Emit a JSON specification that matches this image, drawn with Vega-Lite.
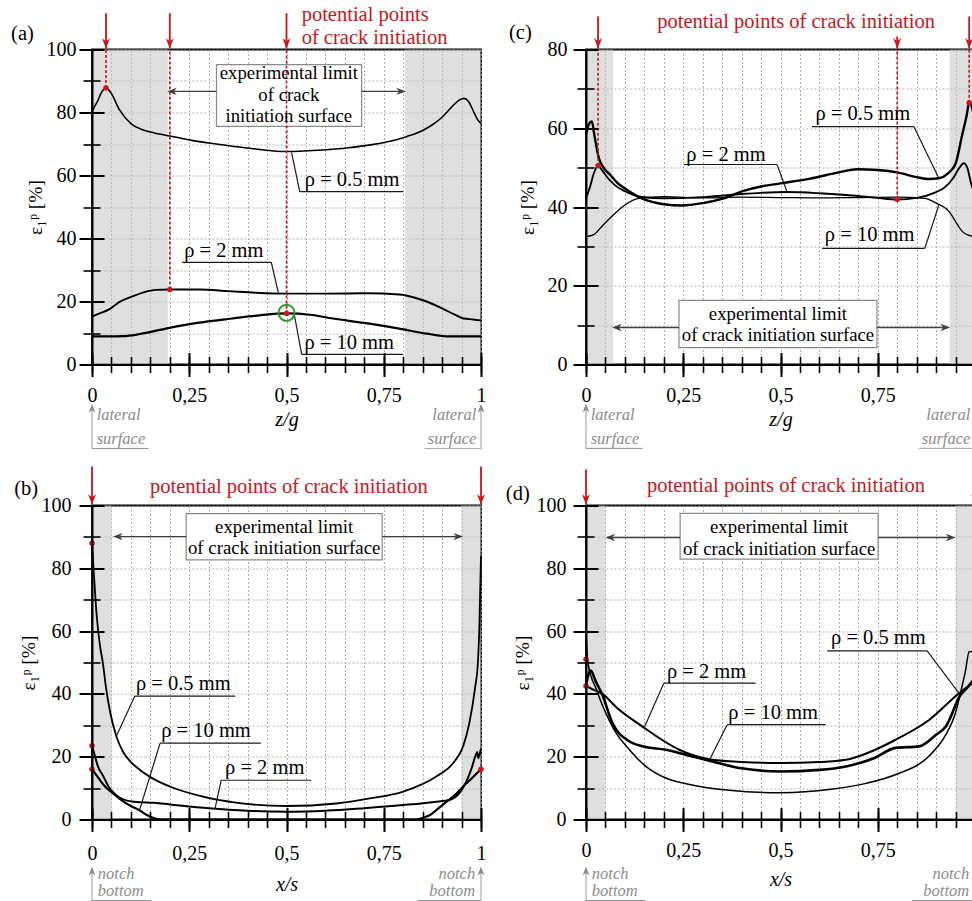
{
  "$schema": "https://vega.github.io/schema/vega-lite/v6.json",
  "background": "white",
  "padding": {"left": 10, "top": 4.5, "right": -8, "bottom": 1},
  "columns": 2,
  "spacing": {"row": 141, "column": 105},
  "bounds": "flush",
  "config": {
    "view": {"stroke": "black", "strokeWidth": 1.8},
    "font": "Liberation Serif",
    "axis": {
      "labelFont": "Liberation Serif", "titleFont": "Liberation Serif",
      "labelColor": "black", "titleColor": "black", "titleFontWeight": "normal",
      "labelFontSize": 20, "titleFontSize": 20, "domainColor": "black", "tickColor": "black",
      "labelFlush": false, "labelOverlap": false
    },
    "text": {"font": "Liberation Serif"}
  },
  "datasets": {
    "a_curves": [
      {"rho": "0.5 mm", "x": 0, "y": 80}, {"rho": "0.5 mm", "x": 0.007, "y": 82}, {"rho": "0.5 mm", "x": 0.014, "y": 83.5},
      {"rho": "0.5 mm", "x": 0.025, "y": 86.5}, {"rho": "0.5 mm", "x": 0.036, "y": 87.8}, {"rho": "0.5 mm", "x": 0.05, "y": 86},
      {"rho": "0.5 mm", "x": 0.07, "y": 81}, {"rho": "0.5 mm", "x": 0.1, "y": 76.5}, {"rho": "0.5 mm", "x": 0.13, "y": 74.5},
      {"rho": "0.5 mm", "x": 0.16, "y": 73.5}, {"rho": "0.5 mm", "x": 0.206, "y": 72.4}, {"rho": "0.5 mm", "x": 0.25, "y": 71.3},
      {"rho": "0.5 mm", "x": 0.3, "y": 70.3}, {"rho": "0.5 mm", "x": 0.36, "y": 69.3}, {"rho": "0.5 mm", "x": 0.42, "y": 68.4},
      {"rho": "0.5 mm", "x": 0.5, "y": 67.6}, {"rho": "0.5 mm", "x": 0.58, "y": 68}, {"rho": "0.5 mm", "x": 0.66, "y": 68.8},
      {"rho": "0.5 mm", "x": 0.72, "y": 69.8}, {"rho": "0.5 mm", "x": 0.78, "y": 71.3}, {"rho": "0.5 mm", "x": 0.81, "y": 72.4},
      {"rho": "0.5 mm", "x": 0.85, "y": 74.3}, {"rho": "0.5 mm", "x": 0.876, "y": 76.2}, {"rho": "0.5 mm", "x": 0.9, "y": 78.5},
      {"rho": "0.5 mm", "x": 0.925, "y": 81.8}, {"rho": "0.5 mm", "x": 0.945, "y": 84}, {"rho": "0.5 mm", "x": 0.956, "y": 84.5},
      {"rho": "0.5 mm", "x": 0.968, "y": 83.5}, {"rho": "0.5 mm", "x": 0.98, "y": 80.5}, {"rho": "0.5 mm", "x": 0.99, "y": 78},
      {"rho": "0.5 mm", "x": 1, "y": 76.5},
      {"rho": "2 mm", "x": 0, "y": 15.2}, {"rho": "2 mm", "x": 0.02, "y": 16.2}, {"rho": "2 mm", "x": 0.044, "y": 17.5},
      {"rho": "2 mm", "x": 0.07, "y": 19.8}, {"rho": "2 mm", "x": 0.104, "y": 21.6}, {"rho": "2 mm", "x": 0.135, "y": 23},
      {"rho": "2 mm", "x": 0.164, "y": 23.7}, {"rho": "2 mm", "x": 0.2, "y": 23.8}, {"rho": "2 mm", "x": 0.276, "y": 23.8},
      {"rho": "2 mm", "x": 0.35, "y": 23.3}, {"rho": "2 mm", "x": 0.42, "y": 22.8}, {"rho": "2 mm", "x": 0.5, "y": 22.5},
      {"rho": "2 mm", "x": 0.6, "y": 22.5}, {"rho": "2 mm", "x": 0.706, "y": 22.6}, {"rho": "2 mm", "x": 0.79, "y": 22.2},
      {"rho": "2 mm", "x": 0.83, "y": 21.2}, {"rho": "2 mm", "x": 0.86, "y": 20}, {"rho": "2 mm", "x": 0.9, "y": 17.8},
      {"rho": "2 mm", "x": 0.93, "y": 16}, {"rho": "2 mm", "x": 0.955, "y": 14.6}, {"rho": "2 mm", "x": 0.98, "y": 14.3},
      {"rho": "2 mm", "x": 1, "y": 14},
      {"rho": "10 mm", "x": 0, "y": 8.9}, {"rho": "10 mm", "x": 0.04, "y": 8.9}, {"rho": "10 mm", "x": 0.08, "y": 9},
      {"rho": "10 mm", "x": 0.12, "y": 9.6}, {"rho": "10 mm", "x": 0.19, "y": 11.4}, {"rho": "10 mm", "x": 0.27, "y": 13.2},
      {"rho": "10 mm", "x": 0.36, "y": 14.6}, {"rho": "10 mm", "x": 0.43, "y": 15.6}, {"rho": "10 mm", "x": 0.5, "y": 16.2},
      {"rho": "10 mm", "x": 0.56, "y": 15.8}, {"rho": "10 mm", "x": 0.62, "y": 14.6}, {"rho": "10 mm", "x": 0.7, "y": 13.2},
      {"rho": "10 mm", "x": 0.79, "y": 11.4}, {"rho": "10 mm", "x": 0.86, "y": 9.8}, {"rho": "10 mm", "x": 0.92, "y": 8.9},
      {"rho": "10 mm", "x": 1, "y": 8.9}
    ],
    "a_rects": [
      {"kind": "shade", "x": 0, "x2": 0.195, "y": 0, "y2": 100},
      {"kind": "shade", "x": 0.805, "x2": 1, "y": 0, "y2": 100},
      {"kind": "box", "x": 0.32, "x2": 0.693, "y": 75.6, "y2": 95.2}
    ],
    "a_rules": [
      {"kind": "crack", "x": 0.036, "y": 100.3, "x2": 0.036, "y2": 111.5},
      {"kind": "crack", "x": 0.2, "y": 100.3, "x2": 0.2, "y2": 111.5},
      {"kind": "crack", "x": 0.5, "y": 100.3, "x2": 0.5, "y2": 111.5},
      {"kind": "dash", "x": 0.036, "y": 87.8, "x2": 0.036, "y2": 100},
      {"kind": "dash", "x": 0.2, "y": 23.8, "x2": 0.2, "y2": 100},
      {"kind": "dash", "x": 0.5, "y": 16.2, "x2": 0.5, "y2": 100},
      {"kind": "box", "x": 0.32, "y": 86.7, "x2": 0.205, "y2": 86.7},
      {"kind": "box", "x": 0.693, "y": 86.7, "x2": 0.795, "y2": 86.7},
      {"kind": "leader", "x": 0.534, "y": 54.9, "x2": 0.8, "y2": 54.9},
      {"kind": "leader", "x": 0.534, "y": 54.9, "x2": 0.513, "y2": 67.3},
      {"kind": "leader", "x": 0.232, "y": 32.4, "x2": 0.461, "y2": 32.4},
      {"kind": "leader", "x": 0.461, "y": 32.4, "x2": 0.479, "y2": 22.8},
      {"kind": "leader", "x": 0.539, "y": 3.2, "x2": 0.799, "y2": 3.2},
      {"kind": "leader", "x": 0.539, "y": 3.2, "x2": 0.52, "y2": 15.9},
      {"kind": "note", "x": 0, "y": -26.7, "x2": 0, "y2": -14},
      {"kind": "note", "x": 0, "y": -26.7, "x2": 0.145, "y2": -26.7},
      {"kind": "note", "x": 1, "y": -26.7, "x2": 1, "y2": -14},
      {"kind": "note", "x": 0.855, "y": -26.7, "x2": 1, "y2": -26.7}
    ],
    "a_heads": [
      {"kind": "crack", "dir": "down", "x": 0.036, "y": 100.3},
      {"kind": "crack", "dir": "down", "x": 0.2, "y": 100.3},
      {"kind": "crack", "dir": "down", "x": 0.5, "y": 100.3},
      {"kind": "box", "dir": "left", "x": 0.193, "y": 86.7},
      {"kind": "box", "dir": "right", "x": 0.807, "y": 86.7},
      {"kind": "note", "dir": "up", "x": 0, "y": -12.5},
      {"kind": "note", "dir": "up", "x": 1, "y": -12.5}
    ],
    "a_dots": [
      {"kind": "dot", "x": 0.036, "y": 87.8}, {"kind": "dot", "x": 0.2, "y": 23.8},
      {"kind": "dot", "x": 0.5, "y": 16.2}, {"kind": "ring", "x": 0.5, "y": 16.4}
    ],
    "a_texts": [
      {"kind": "red", "label": "potential points", "x": 0.539, "y": 110.8},
      {"kind": "red", "label": "of crack initiation", "x": 0.539, "y": 103.5},
      {"kind": "letter", "label": "(a)", "x": -0.208, "y": 104.8},
      {"kind": "box", "label": "experimental limit", "x": 0.506, "y": 92.4},
      {"kind": "box", "label": "of crack", "x": 0.506, "y": 85.7},
      {"kind": "box", "label": "initiation surface", "x": 0.506, "y": 79},
      {"kind": "rho", "label": "ρ = 0.5 mm", "x": 0.547, "y": 58.7},
      {"kind": "rho", "label": "ρ = 2 mm", "x": 0.237, "y": 35.9},
      {"kind": "rho", "label": "ρ = 10 mm", "x": 0.546, "y": 6.7},
      {"kind": "noteL", "label": "lateral", "x": 0.012, "y": -15.9},
      {"kind": "noteL", "label": "surface", "x": 0.012, "y": -23.5},
      {"kind": "noteR", "label": "lateral", "x": 0.988, "y": -15.9},
      {"kind": "noteR", "label": "surface", "x": 0.988, "y": -23.5}
    ],
    "c_curves": [
      {"rho": "0.5 mm", "x": 0, "y": 58.4}, {"rho": "0.5 mm", "x": 0.007, "y": 61}, {"rho": "0.5 mm", "x": 0.015, "y": 61.7},
      {"rho": "0.5 mm", "x": 0.022, "y": 58}, {"rho": "0.5 mm", "x": 0.033, "y": 52.4}, {"rho": "0.5 mm", "x": 0.045, "y": 50},
      {"rho": "0.5 mm", "x": 0.062, "y": 48.2}, {"rho": "0.5 mm", "x": 0.08, "y": 46.2}, {"rho": "0.5 mm", "x": 0.105, "y": 44.4},
      {"rho": "0.5 mm", "x": 0.139, "y": 42.4}, {"rho": "0.5 mm", "x": 0.17, "y": 41.3}, {"rho": "0.5 mm", "x": 0.2, "y": 40.7},
      {"rho": "0.5 mm", "x": 0.247, "y": 40.4}, {"rho": "0.5 mm", "x": 0.3, "y": 41}, {"rho": "0.5 mm", "x": 0.354, "y": 42.2},
      {"rho": "0.5 mm", "x": 0.405, "y": 44.1}, {"rho": "0.5 mm", "x": 0.45, "y": 45.2}, {"rho": "0.5 mm", "x": 0.5, "y": 46},
      {"rho": "0.5 mm", "x": 0.576, "y": 47.2}, {"rho": "0.5 mm", "x": 0.65, "y": 48.8}, {"rho": "0.5 mm", "x": 0.697, "y": 49.6},
      {"rho": "0.5 mm", "x": 0.75, "y": 49.4}, {"rho": "0.5 mm", "x": 0.8, "y": 48.8}, {"rho": "0.5 mm", "x": 0.85, "y": 47.6},
      {"rho": "0.5 mm", "x": 0.88, "y": 47.1}, {"rho": "0.5 mm", "x": 0.907, "y": 47.3}, {"rho": "0.5 mm", "x": 0.93, "y": 48.5},
      {"rho": "0.5 mm", "x": 0.95, "y": 51}, {"rho": "0.5 mm", "x": 0.967, "y": 58.3}, {"rho": "0.5 mm", "x": 0.978, "y": 63},
      {"rho": "0.5 mm", "x": 0.986, "y": 66.8}, {"rho": "0.5 mm", "x": 0.993, "y": 65}, {"rho": "0.5 mm", "x": 1, "y": 62},
      {"rho": "2 mm", "x": 0, "y": 42.2}, {"rho": "2 mm", "x": 0.01, "y": 45}, {"rho": "2 mm", "x": 0.02, "y": 48.5},
      {"rho": "2 mm", "x": 0.031, "y": 50.5}, {"rho": "2 mm", "x": 0.04, "y": 49.5}, {"rho": "2 mm", "x": 0.055, "y": 47.5},
      {"rho": "2 mm", "x": 0.075, "y": 45.5}, {"rho": "2 mm", "x": 0.1, "y": 44}, {"rho": "2 mm", "x": 0.14, "y": 42.6},
      {"rho": "2 mm", "x": 0.2, "y": 42.2}, {"rho": "2 mm", "x": 0.3, "y": 42.5}, {"rho": "2 mm", "x": 0.4, "y": 43.3},
      {"rho": "2 mm", "x": 0.45, "y": 43.6}, {"rho": "2 mm", "x": 0.517, "y": 43.8}, {"rho": "2 mm", "x": 0.6, "y": 43.5},
      {"rho": "2 mm", "x": 0.7, "y": 42.8}, {"rho": "2 mm", "x": 0.75, "y": 42.3}, {"rho": "2 mm", "x": 0.8, "y": 41.9},
      {"rho": "2 mm", "x": 0.85, "y": 42.3}, {"rho": "2 mm", "x": 0.9, "y": 43.8}, {"rho": "2 mm", "x": 0.92, "y": 44.8},
      {"rho": "2 mm", "x": 0.945, "y": 47.5}, {"rho": "2 mm", "x": 0.96, "y": 50}, {"rho": "2 mm", "x": 0.971, "y": 51.1},
      {"rho": "2 mm", "x": 0.98, "y": 50}, {"rho": "2 mm", "x": 0.99, "y": 46}, {"rho": "2 mm", "x": 1, "y": 43},
      {"rho": "10 mm", "x": 0, "y": 32.5}, {"rho": "10 mm", "x": 0.02, "y": 33}, {"rho": "10 mm", "x": 0.04, "y": 35},
      {"rho": "10 mm", "x": 0.06, "y": 37}, {"rho": "10 mm", "x": 0.075, "y": 38.4}, {"rho": "10 mm", "x": 0.1, "y": 40.5},
      {"rho": "10 mm", "x": 0.135, "y": 42.2}, {"rho": "10 mm", "x": 0.2, "y": 42.6}, {"rho": "10 mm", "x": 0.3, "y": 42.3},
      {"rho": "10 mm", "x": 0.4, "y": 42.5}, {"rho": "10 mm", "x": 0.5, "y": 42.4}, {"rho": "10 mm", "x": 0.6, "y": 42.3},
      {"rho": "10 mm", "x": 0.7, "y": 42.4}, {"rho": "10 mm", "x": 0.8, "y": 42.5}, {"rho": "10 mm", "x": 0.87, "y": 42.2},
      {"rho": "10 mm", "x": 0.9, "y": 41}, {"rho": "10 mm", "x": 0.933, "y": 38.9}, {"rho": "10 mm", "x": 0.955, "y": 35.5},
      {"rho": "10 mm", "x": 0.967, "y": 33.8}, {"rho": "10 mm", "x": 0.985, "y": 32.8}, {"rho": "10 mm", "x": 1, "y": 32.5}
    ],
    "c_rects": [
      {"kind": "shade", "x": 0, "x2": 0.07, "y": 0, "y2": 80},
      {"kind": "shade", "x": 0.935, "x2": 1, "y": 0, "y2": 80},
      {"kind": "box", "x": 0.239, "x2": 0.748, "y": 4.3, "y2": 16.3}
    ],
    "c_rules": [
      {"kind": "crack", "x": 0.031, "y": 80.25, "x2": 0.031, "y2": 88.4},
      {"kind": "crack", "x": 0.8, "y": 80.25, "x2": 0.8, "y2": 83.3},
      {"kind": "crack", "x": 0.985, "y": 80.25, "x2": 0.985, "y2": 88.4},
      {"kind": "dash", "x": 0.031, "y": 50.5, "x2": 0.031, "y2": 80},
      {"kind": "dash", "x": 0.8, "y": 41.9, "x2": 0.8, "y2": 80},
      {"kind": "dash", "x": 0.985, "y": 66.5, "x2": 0.985, "y2": 80},
      {"kind": "box", "x": 0.239, "y": 9.4, "x2": 0.075, "y2": 9.4},
      {"kind": "box", "x": 0.748, "y": 9.4, "x2": 0.928, "y2": 9.4},
      {"kind": "leader", "x": 0.581, "y": 60.4, "x2": 0.843, "y2": 60.4},
      {"kind": "leader", "x": 0.843, "y": 60.4, "x2": 0.907, "y2": 47.3},
      {"kind": "leader", "x": 0.252, "y": 50.8, "x2": 0.491, "y2": 50.8},
      {"kind": "leader", "x": 0.491, "y": 50.8, "x2": 0.517, "y2": 43.8},
      {"kind": "leader", "x": 0.607, "y": 29.5, "x2": 0.871, "y2": 29.5},
      {"kind": "leader", "x": 0.871, "y": 29.5, "x2": 0.907, "y2": 40.5},
      {"kind": "note", "x": 0, "y": -21.3, "x2": 0, "y2": -11},
      {"kind": "note", "x": 0, "y": -21.3, "x2": 0.145, "y2": -21.3},
      {"kind": "note", "x": 1, "y": -21.3, "x2": 1, "y2": -11},
      {"kind": "note", "x": 0.855, "y": -21.3, "x2": 1, "y2": -21.3}
    ],
    "c_heads": [
      {"kind": "crack", "dir": "down", "x": 0.031, "y": 80.25},
      {"kind": "crack", "dir": "down", "x": 0.8, "y": 80.25},
      {"kind": "crack", "dir": "down", "x": 0.985, "y": 80.25},
      {"kind": "box", "dir": "left", "x": 0.067, "y": 9.4},
      {"kind": "box", "dir": "right", "x": 0.936, "y": 9.4},
      {"kind": "note", "dir": "up", "x": 0, "y": -9.9},
      {"kind": "note", "dir": "up", "x": 1, "y": -9.9}
    ],
    "c_dots": [
      {"kind": "dot", "x": 0.031, "y": 50.5}, {"kind": "dot", "x": 0.8, "y": 41.9}, {"kind": "dot", "x": 0.985, "y": 66.5}
    ],
    "c_texts": [
      {"kind": "red", "label": "potential points of crack initiation", "x": 0.183, "y": 87.1},
      {"kind": "letter", "label": "(c)", "x": -0.198, "y": 84.1},
      {"kind": "box", "label": "experimental limit", "x": 0.4935, "y": 12.7},
      {"kind": "box", "label": "of crack initiation surface", "x": 0.4935, "y": 7.4},
      {"kind": "rho", "label": "ρ = 0.5 mm", "x": 0.59, "y": 63.5},
      {"kind": "rho", "label": "ρ = 2 mm", "x": 0.258, "y": 53.3},
      {"kind": "rho", "label": "ρ = 10 mm", "x": 0.614, "y": 33},
      {"kind": "noteL", "label": "lateral", "x": 0.012, "y": -12.7},
      {"kind": "noteL", "label": "surface", "x": 0.012, "y": -18.8},
      {"kind": "noteR", "label": "lateral", "x": 0.988, "y": -12.7},
      {"kind": "noteR", "label": "surface", "x": 0.988, "y": -18.8}
    ],
    "b_curves": [
      {"rho": "0.5 mm", "x": 0, "y": 88}, {"rho": "0.5 mm", "x": 0.004, "y": 80}, {"rho": "0.5 mm", "x": 0.008, "y": 72},
      {"rho": "0.5 mm", "x": 0.012, "y": 65}, {"rho": "0.5 mm", "x": 0.016, "y": 60}, {"rho": "0.5 mm", "x": 0.021, "y": 55},
      {"rho": "0.5 mm", "x": 0.028, "y": 49.8}, {"rho": "0.5 mm", "x": 0.036, "y": 42}, {"rho": "0.5 mm", "x": 0.047, "y": 34},
      {"rho": "0.5 mm", "x": 0.0625, "y": 26.5}, {"rho": "0.5 mm", "x": 0.08, "y": 21.5}, {"rho": "0.5 mm", "x": 0.1, "y": 18.3},
      {"rho": "0.5 mm", "x": 0.113, "y": 16.8}, {"rho": "0.5 mm", "x": 0.15, "y": 13.5}, {"rho": "0.5 mm", "x": 0.2, "y": 10.5},
      {"rho": "0.5 mm", "x": 0.285, "y": 7.3}, {"rho": "0.5 mm", "x": 0.37, "y": 5.4}, {"rho": "0.5 mm", "x": 0.5, "y": 4.3},
      {"rho": "0.5 mm", "x": 0.628, "y": 5.1}, {"rho": "0.5 mm", "x": 0.714, "y": 6.7}, {"rho": "0.5 mm", "x": 0.8, "y": 8.9},
      {"rho": "0.5 mm", "x": 0.885, "y": 13.7}, {"rho": "0.5 mm", "x": 0.928, "y": 17.9}, {"rho": "0.5 mm", "x": 0.954, "y": 23.3},
      {"rho": "0.5 mm", "x": 0.97, "y": 30.7}, {"rho": "0.5 mm", "x": 0.984, "y": 41.3}, {"rho": "0.5 mm", "x": 0.992, "y": 50},
      {"rho": "0.5 mm", "x": 0.996, "y": 62}, {"rho": "0.5 mm", "x": 1, "y": 84},
      {"rho": "2 mm", "x": 0, "y": 23.5}, {"rho": "2 mm", "x": 0.008, "y": 20}, {"rho": "2 mm", "x": 0.015, "y": 17},
      {"rho": "2 mm", "x": 0.028, "y": 14}, {"rho": "2 mm", "x": 0.045, "y": 10}, {"rho": "2 mm", "x": 0.06, "y": 8},
      {"rho": "2 mm", "x": 0.071, "y": 7}, {"rho": "2 mm", "x": 0.09, "y": 6}, {"rho": "2 mm", "x": 0.113, "y": 5.6},
      {"rho": "2 mm", "x": 0.16, "y": 5.3}, {"rho": "2 mm", "x": 0.2, "y": 4.8}, {"rho": "2 mm", "x": 0.3, "y": 3.6},
      {"rho": "2 mm", "x": 0.4, "y": 2.8}, {"rho": "2 mm", "x": 0.5, "y": 2.5}, {"rho": "2 mm", "x": 0.6, "y": 2.8},
      {"rho": "2 mm", "x": 0.7, "y": 3.6}, {"rho": "2 mm", "x": 0.8, "y": 4.6}, {"rho": "2 mm", "x": 0.88, "y": 5.6},
      {"rho": "2 mm", "x": 0.92, "y": 6.3}, {"rho": "2 mm", "x": 0.945, "y": 8.5}, {"rho": "2 mm", "x": 0.96, "y": 11.5},
      {"rho": "2 mm", "x": 0.975, "y": 16}, {"rho": "2 mm", "x": 0.985, "y": 20}, {"rho": "2 mm", "x": 0.99, "y": 21.5},
      {"rho": "2 mm", "x": 0.993, "y": 19.5}, {"rho": "2 mm", "x": 0.997, "y": 21}, {"rho": "2 mm", "x": 1, "y": 22.5},
      {"rho": "10 mm", "x": 0, "y": 16}, {"rho": "10 mm", "x": 0.015, "y": 13.5}, {"rho": "10 mm", "x": 0.03, "y": 11},
      {"rho": "10 mm", "x": 0.054, "y": 8.3}, {"rho": "10 mm", "x": 0.08, "y": 5.8}, {"rho": "10 mm", "x": 0.1, "y": 4.3},
      {"rho": "10 mm", "x": 0.122, "y": 2.9}, {"rho": "10 mm", "x": 0.14, "y": 1.5}, {"rho": "10 mm", "x": 0.16, "y": 0.4},
      {"rho": "10 mm", "x": 0.18, "y": 0}, {"rho": "10 mm", "x": 0.83, "y": 0}, {"rho": "10 mm", "x": 0.85, "y": 0.5},
      {"rho": "10 mm", "x": 0.87, "y": 1.5}, {"rho": "10 mm", "x": 0.885, "y": 3}, {"rho": "10 mm", "x": 0.91, "y": 5.5},
      {"rho": "10 mm", "x": 0.935, "y": 8}, {"rho": "10 mm", "x": 0.954, "y": 10.5}, {"rho": "10 mm", "x": 0.975, "y": 13},
      {"rho": "10 mm", "x": 1, "y": 16}
    ],
    "b_rects": [
      {"kind": "shade", "x": 0, "x2": 0.051, "y": 0, "y2": 100},
      {"kind": "shade", "x": 0.949, "x2": 1, "y": 0, "y2": 100},
      {"kind": "box", "x": 0.242, "x2": 0.746, "y": 82.7, "y2": 97.4}
    ],
    "b_rules": [
      {"kind": "crack", "x": 0, "y": 100.3, "x2": 0, "y2": 112.4},
      {"kind": "crack", "x": 1, "y": 100.3, "x2": 1, "y2": 112.4},
      {"kind": "box", "x": 0.242, "y": 90.1, "x2": 0.062, "y2": 90.1},
      {"kind": "box", "x": 0.746, "y": 90.1, "x2": 0.946, "y2": 90.1},
      {"kind": "leader", "x": 0.11, "y": 39.3, "x2": 0.368, "y2": 39.3},
      {"kind": "leader", "x": 0.11, "y": 39.3, "x2": 0.0625, "y2": 26.5},
      {"kind": "leader", "x": 0.175, "y": 24.3, "x2": 0.434, "y2": 24.3},
      {"kind": "leader", "x": 0.175, "y": 24.3, "x2": 0.122, "y2": 2.9},
      {"kind": "leader", "x": 0.332, "y": 12.5, "x2": 0.563, "y2": 12.5},
      {"kind": "leader", "x": 0.332, "y": 12.5, "x2": 0.316, "y2": 3.3},
      {"kind": "note", "x": 0, "y": -25.8, "x2": 0, "y2": -16.5},
      {"kind": "note", "x": 0, "y": -25.8, "x2": 0.152, "y2": -25.8},
      {"kind": "note", "x": 1, "y": -25.8, "x2": 1, "y2": -16.5},
      {"kind": "note", "x": 0.838, "y": -25.8, "x2": 1, "y2": -25.8}
    ],
    "b_heads": [
      {"kind": "crack", "dir": "down", "x": 0, "y": 100.3},
      {"kind": "crack", "dir": "down", "x": 1, "y": 100.3},
      {"kind": "box", "dir": "left", "x": 0.054, "y": 90.1},
      {"kind": "box", "dir": "right", "x": 0.954, "y": 90.1},
      {"kind": "note", "dir": "up", "x": 0, "y": -15},
      {"kind": "note", "dir": "up", "x": 1, "y": -15}
    ],
    "b_dots": [
      {"kind": "dot", "x": 0, "y": 88}, {"kind": "dot", "x": 0, "y": 23.5},
      {"kind": "dot", "x": 0, "y": 16}, {"kind": "dot", "x": 1, "y": 16}
    ],
    "b_texts": [
      {"kind": "red", "label": "potential points of crack initiation", "x": 0.149, "y": 105.8},
      {"kind": "letter", "label": "(b)", "x": -0.2, "y": 105.4},
      {"kind": "box", "label": "experimental limit", "x": 0.494, "y": 93.3},
      {"kind": "box", "label": "of crack initiation surface", "x": 0.494, "y": 86.6},
      {"kind": "rho", "label": "ρ = 0.5 mm", "x": 0.113, "y": 43.1},
      {"kind": "rho", "label": "ρ = 10 mm", "x": 0.178, "y": 28.1},
      {"kind": "rho", "label": "ρ = 2 mm", "x": 0.342, "y": 16.3},
      {"kind": "noteL", "label": "notch", "x": 0.015, "y": -17.2},
      {"kind": "noteL", "label": "bottom", "x": 0.015, "y": -22.9},
      {"kind": "noteR", "label": "notch", "x": 0.985, "y": -17.2},
      {"kind": "noteR", "label": "bottom", "x": 0.985, "y": -22.9}
    ],
    "d_curves": [
      {"rho": "0.5 mm", "x": 0, "y": 59}, {"rho": "0.5 mm", "x": 0.004, "y": 51}, {"rho": "0.5 mm", "x": 0.012, "y": 46},
      {"rho": "0.5 mm", "x": 0.025, "y": 42}, {"rho": "0.5 mm", "x": 0.04, "y": 37}, {"rho": "0.5 mm", "x": 0.06, "y": 31.5},
      {"rho": "0.5 mm", "x": 0.08, "y": 27}, {"rho": "0.5 mm", "x": 0.106, "y": 23}, {"rho": "0.5 mm", "x": 0.153, "y": 17},
      {"rho": "0.5 mm", "x": 0.205, "y": 13.2}, {"rho": "0.5 mm", "x": 0.26, "y": 11.3}, {"rho": "0.5 mm", "x": 0.368, "y": 9.3},
      {"rho": "0.5 mm", "x": 0.5, "y": 8.5}, {"rho": "0.5 mm", "x": 0.63, "y": 9.6}, {"rho": "0.5 mm", "x": 0.72, "y": 11.5},
      {"rho": "0.5 mm", "x": 0.8, "y": 14.5}, {"rho": "0.5 mm", "x": 0.88, "y": 20}, {"rho": "0.5 mm", "x": 0.925, "y": 27},
      {"rho": "0.5 mm", "x": 0.95, "y": 34}, {"rho": "0.5 mm", "x": 0.963, "y": 40.5}, {"rho": "0.5 mm", "x": 0.975, "y": 47},
      {"rho": "0.5 mm", "x": 0.985, "y": 53.4}, {"rho": "0.5 mm", "x": 1, "y": 53.5},
      {"rho": "2 mm", "x": 0, "y": 42.5}, {"rho": "2 mm", "x": 0.02, "y": 41.3}, {"rho": "2 mm", "x": 0.042, "y": 40},
      {"rho": "2 mm", "x": 0.08, "y": 35.5}, {"rho": "2 mm", "x": 0.145, "y": 29.6}, {"rho": "2 mm", "x": 0.2, "y": 25},
      {"rho": "2 mm", "x": 0.24, "y": 22.2}, {"rho": "2 mm", "x": 0.325, "y": 19}, {"rho": "2 mm", "x": 0.4, "y": 18.3},
      {"rho": "2 mm", "x": 0.5, "y": 18}, {"rho": "2 mm", "x": 0.6, "y": 18.3}, {"rho": "2 mm", "x": 0.668, "y": 19},
      {"rho": "2 mm", "x": 0.73, "y": 21.5}, {"rho": "2 mm", "x": 0.796, "y": 25.4}, {"rho": "2 mm", "x": 0.882, "y": 31.7},
      {"rho": "2 mm", "x": 0.959, "y": 40.2}, {"rho": "2 mm", "x": 1, "y": 44},
      {"rho": "10 mm", "x": 0, "y": 43}, {"rho": "10 mm", "x": 0.012, "y": 47.4}, {"rho": "10 mm", "x": 0.025, "y": 44},
      {"rho": "10 mm", "x": 0.042, "y": 39.7}, {"rho": "10 mm", "x": 0.068, "y": 30.7}, {"rho": "10 mm", "x": 0.11, "y": 25},
      {"rho": "10 mm", "x": 0.145, "y": 23.3}, {"rho": "10 mm", "x": 0.205, "y": 22.2}, {"rho": "10 mm", "x": 0.26, "y": 20.5},
      {"rho": "10 mm", "x": 0.325, "y": 18.5}, {"rho": "10 mm", "x": 0.4, "y": 16.3}, {"rho": "10 mm", "x": 0.5, "y": 15.3},
      {"rho": "10 mm", "x": 0.6, "y": 15.8}, {"rho": "10 mm", "x": 0.668, "y": 16.9}, {"rho": "10 mm", "x": 0.74, "y": 19.5},
      {"rho": "10 mm", "x": 0.796, "y": 22.8}, {"rho": "10 mm", "x": 0.856, "y": 23.3}, {"rho": "10 mm", "x": 0.9, "y": 27},
      {"rho": "10 mm", "x": 0.925, "y": 29.6}, {"rho": "10 mm", "x": 0.963, "y": 39.7}, {"rho": "10 mm", "x": 0.98, "y": 42},
      {"rho": "10 mm", "x": 1, "y": 45}
    ],
    "d_rects": [
      {"kind": "shade", "x": 0, "x2": 0.05, "y": 0, "y2": 100},
      {"kind": "shade", "x": 0.95, "x2": 1, "y": 0, "y2": 100},
      {"kind": "box", "x": 0.242, "x2": 0.751, "y": 82.9, "y2": 97.5}
    ],
    "d_rules": [
      {"kind": "crack", "x": 0, "y": 100.3, "x2": 0, "y2": 111.5},
      {"kind": "crack", "x": 1, "y": 100.3, "x2": 1, "y2": 111.5},
      {"kind": "box", "x": 0.242, "y": 89.8, "x2": 0.058, "y2": 89.8},
      {"kind": "box", "x": 0.751, "y": 89.8, "x2": 0.942, "y2": 89.8},
      {"kind": "leader", "x": 0.62, "y": 53.7, "x2": 0.877, "y2": 53.7},
      {"kind": "leader", "x": 0.877, "y": 53.7, "x2": 0.959, "y2": 40.2},
      {"kind": "leader", "x": 0.2, "y": 43.4, "x2": 0.436, "y2": 43.4},
      {"kind": "leader", "x": 0.2, "y": 43.4, "x2": 0.149, "y2": 29.1},
      {"kind": "leader", "x": 0.363, "y": 30.2, "x2": 0.616, "y2": 30.2},
      {"kind": "leader", "x": 0.363, "y": 30.2, "x2": 0.32, "y2": 19.6},
      {"kind": "note", "x": 0, "y": -25.8, "x2": 0, "y2": -16.5},
      {"kind": "note", "x": 0, "y": -25.8, "x2": 0.152, "y2": -25.8},
      {"kind": "note", "x": 1, "y": -25.8, "x2": 1, "y2": -16.5},
      {"kind": "note", "x": 0.838, "y": -25.8, "x2": 1, "y2": -25.8}
    ],
    "d_heads": [
      {"kind": "crack", "dir": "down", "x": 0, "y": 100.3},
      {"kind": "crack", "dir": "down", "x": 1, "y": 100.3},
      {"kind": "box", "dir": "left", "x": 0.05, "y": 89.8},
      {"kind": "box", "dir": "right", "x": 0.95, "y": 89.8},
      {"kind": "note", "dir": "up", "x": 0, "y": -15},
      {"kind": "note", "dir": "up", "x": 1, "y": -15}
    ],
    "d_dots": [
      {"kind": "dot", "x": 0, "y": 51}, {"kind": "dot", "x": 0, "y": 42.5}
    ],
    "d_texts": [
      {"kind": "red", "label": "potential points of crack initiation", "x": 0.157, "y": 106.3},
      {"kind": "letter", "label": "(d)", "x": -0.206, "y": 103.8},
      {"kind": "box", "label": "experimental limit", "x": 0.4965, "y": 93},
      {"kind": "box", "label": "of crack initiation surface", "x": 0.4965, "y": 86.3},
      {"kind": "rho", "label": "ρ = 0.5 mm", "x": 0.63, "y": 57.8},
      {"kind": "rho", "label": "ρ = 2 mm", "x": 0.208, "y": 47},
      {"kind": "rho", "label": "ρ = 10 mm", "x": 0.366, "y": 34},
      {"kind": "noteL", "label": "notch", "x": 0.015, "y": -17.2},
      {"kind": "noteL", "label": "bottom", "x": 0.015, "y": -22.9},
      {"kind": "noteR", "label": "notch", "x": 0.985, "y": -17.2},
      {"kind": "noteR", "label": "bottom", "x": 0.985, "y": -22.9}
    ]
  },
  "concat": [
    {
      "width": 389, "height": 315,
      "resolve": {"axis": {"x": "independent", "y": "independent"}, "scale": {"color": "independent", "size": "independent", "shape": "independent", "strokeWidth": "independent", "strokeDash": "independent"}},
      "layer": [
        {
          "data": {"name": "a_rects"}, "transform": [{"filter": "datum.kind == 'shade'"}],
          "mark": {"type": "rect", "fill": "#c4c4c4", "opacity": 0.55},
          "encoding": {
            "x": {"field": "x", "type": "quantitative", "scale": {"domain": [0, 1], "nice": false, "zero": false}, "axis": {"orient": "bottom", "values": [0,0.05,0.1,0.15,0.2,0.25,0.3,0.35,0.4,0.45,0.5,0.55,0.6,0.65,0.7,0.75,0.8,0.85,0.9,0.95,1], "grid": true, "gridColor": "#9c9c9c", "gridDash": [2, 2], "gridWidth": 0.8, "ticks": false, "labels": false, "domain": false, "title": null, "zindex": 0}},
            "x2": {"field": "x2"},
            "y": {"field": "y", "type": "quantitative", "scale": {"domain": [0, 100], "nice": false, "zero": false}, "axis": {"orient": "left", "values": [0,10,20,30,40,50,60,70,80,90,100], "grid": true, "gridColor": "#9c9c9c", "gridDash": [2, 2], "gridWidth": 0.8, "ticks": false, "labels": false, "domain": false, "title": null, "zindex": 0}},
            "y2": {"field": "y2"}
          }
        },
        {
          "data": {"name": "a_rects"}, "transform": [{"filter": "datum.kind == 'box'"}],
          "mark": {"type": "rect", "fill": "white", "stroke": "#8a8a8a", "strokeWidth": 1.2},
          "encoding": {
            "x": {"field": "x", "type": "quantitative", "scale": {"domain": [0, 1], "nice": false, "zero": false}, "axis": {"orient": "bottom", "values": [0,0.05,0.1,0.15,0.2,0.25,0.3,0.35,0.4,0.45,0.5,0.55,0.6,0.65,0.7,0.75,0.8,0.85,0.9,0.95,1], "offset": -8, "tickSize": 16, "tickWidth": 1.6, "labels": false, "domain": false, "grid": false, "title": null, "zindex": 1}},
            "x2": {"field": "x2"},
            "y": {"field": "y", "type": "quantitative", "scale": {"domain": [0, 100], "nice": false, "zero": false}, "axis": {"orient": "left", "values": [0,10,20,30,40,50,60,70,80,90,100], "offset": -8, "tickSize": 17, "tickWidth": 1.6, "labels": false, "domain": false, "grid": false, "title": null, "zindex": 1}},
            "y2": {"field": "y2"}
          }
        },
        {
          "data": {"name": "a_curves"},
          "mark": {"type": "line", "interpolate": "monotone", "color": "black", "strokeJoin": "round"},
          "encoding": {
            "x": {"field": "x", "type": "quantitative", "scale": {"domain": [0, 1], "nice": false, "zero": false}, "axis": {"orient": "bottom", "values": [0, 0.25, 0.5, 0.75, 1], "labelExpr": "replace(toString(datum.value), '.', ',')", "ticks": false, "domain": true, "domainWidth": 2, "labelPadding": 21, "grid": false, "title": "z/g", "titleFontStyle": "italic", "titlePadding": 4, "zindex": 1}},
            "y": {"field": "y", "type": "quantitative", "scale": {"domain": [0, 100], "nice": false, "zero": false}, "axis": {"orient": "left", "values": [0, 20, 40, 60, 80, 100], "ticks": false, "domain": true, "domainWidth": 2, "labelPadding": 16, "grid": false, "title": "ε₁ᵖ [%]", "titleFontSize": 19.5, "titlePadding": 1, "zindex": 1}},
            "strokeWidth": {"field": "rho", "type": "nominal", "scale": {"domain": ["0.5 mm", "2 mm", "10 mm"], "range": [1.6, 2.2, 3]}, "legend": null}
          }
        },
        {
          "data": {"name": "a_rules"},
          "mark": {"type": "rule"},
          "encoding": {
            "x": {"field": "x", "type": "quantitative", "scale": {"domain": [0, 1], "nice": false, "zero": false}, "axis": {"orient": "bottom", "values": [0, 0.25, 0.5, 0.75, 1], "offset": -12, "tickSize": 24, "tickWidth": 2, "labels": false, "domain": false, "grid": false, "title": null, "zindex": 1}},
            "x2": {"field": "x2"},
            "y": {"field": "y", "type": "quantitative", "scale": {"domain": [0, 100], "nice": false, "zero": false}, "axis": {"orient": "left", "values": [0, 20, 40, 60, 80, 100], "offset": -12, "tickSize": 25, "tickWidth": 2, "labels": false, "domain": false, "grid": false, "title": null, "zindex": 1}},
            "y2": {"field": "y2"},
            "color": {"field": "kind", "type": "nominal", "scale": {"domain": ["crack", "dash", "box", "leader", "note"], "range": ["#c8161d", "#d0141e", "#404040", "#1a1a1a", "#8c8c8c"]}, "legend": null},
            "strokeWidth": {"field": "kind", "type": "nominal", "scale": {"domain": ["crack", "dash", "box", "leader", "note"], "range": [1.8, 1, 1.6, 1, 1]}, "legend": null},
            "strokeDash": {"field": "kind", "type": "nominal", "scale": {"domain": ["crack", "dash", "box", "leader", "note"], "range": [[1, 0], [3, 2], [1, 0], [1, 0], [1, 0]]}, "legend": null}
          }
        },
        {
          "data": {"name": "a_heads"},
          "mark": {"type": "point", "filled": true, "opacity": 1, "strokeWidth": 0},
          "encoding": {
            "x": {"field": "x", "type": "quantitative", "scale": {"domain": [0, 1], "nice": false, "zero": false}, "axis": null},
            "y": {"field": "y", "type": "quantitative", "scale": {"domain": [0, 100], "nice": false, "zero": false}, "axis": null},
            "shape": {"field": "dir", "type": "nominal", "scale": {"domain": ["down", "left", "right", "up"], "range": ["M0,0L-0.65,-1.7L0,-1.2L0.65,-1.7Z", "M0,0L1.7,-0.65L1.2,0L1.7,0.65Z", "M0,0L-1.7,-0.65L-1.2,0L-1.7,0.65Z", "M0,0L-0.65,1.7L0,1.2L0.65,1.7Z"]}, "legend": null},
            "color": {"field": "kind", "type": "nominal", "scale": {"domain": ["crack", "box", "note"], "range": ["#c8161d", "#404040", "#8c8c8c"]}, "legend": null},
            "size": {"field": "kind", "type": "nominal", "scale": {"domain": ["crack", "box", "note"], "range": [150, 110, 45]}, "legend": null}
          }
        },
        {
          "data": {"name": "a_dots"}, "transform": [{"filter": "datum.kind == 'dot'"}],
          "mark": {"type": "point", "filled": true, "opacity": 1, "color": "#d0141e", "size": 30},
          "encoding": {
            "x": {"field": "x", "type": "quantitative", "scale": {"domain": [0, 1], "nice": false, "zero": false}, "axis": null},
            "y": {"field": "y", "type": "quantitative", "scale": {"domain": [0, 100], "nice": false, "zero": false}, "axis": null}
          }
        },
        {
          "data": {"name": "a_dots"}, "transform": [{"filter": "datum.kind == 'ring'"}],
          "mark": {"type": "point", "filled": false, "opacity": 1, "color": "#2a9a2a", "strokeWidth": 2, "size": 260},
          "encoding": {
            "x": {"field": "x", "type": "quantitative", "scale": {"domain": [0, 1], "nice": false, "zero": false}, "axis": null},
            "y": {"field": "y", "type": "quantitative", "scale": {"domain": [0, 100], "nice": false, "zero": false}, "axis": null}
          }
        },
        {
          "data": {"name": "a_texts"}, "transform": [{"filter": "indexof(['red', 'rho', 'letter'], datum.kind) >= 0"}],
          "mark": {"type": "text", "align": "left", "baseline": "middle", "fontSize": 20.5},
          "encoding": {
            "x": {"field": "x", "type": "quantitative", "scale": {"domain": [0, 1], "nice": false, "zero": false}, "axis": null},
            "y": {"field": "y", "type": "quantitative", "scale": {"domain": [0, 100], "nice": false, "zero": false}, "axis": null},
            "text": {"field": "label", "type": "nominal"},
            "color": {"field": "kind", "type": "nominal", "scale": {"domain": ["red", "rho", "letter"], "range": ["#c8161d", "black", "black"]}, "legend": null}
          }
        },
        {
          "data": {"name": "a_texts"}, "transform": [{"filter": "datum.kind == 'box'"}],
          "mark": {"type": "text", "align": "center", "baseline": "middle", "fontSize": 18.8, "color": "black"},
          "encoding": {
            "x": {"field": "x", "type": "quantitative", "scale": {"domain": [0, 1], "nice": false, "zero": false}, "axis": null},
            "y": {"field": "y", "type": "quantitative", "scale": {"domain": [0, 100], "nice": false, "zero": false}, "axis": null},
            "text": {"field": "label", "type": "nominal"}
          }
        },
        {
          "data": {"name": "a_texts"}, "transform": [{"filter": "datum.kind == 'noteL'"}],
          "mark": {"type": "text", "align": "left", "baseline": "middle", "fontSize": 16.5, "fontStyle": "italic", "color": "#8c8c8c"},
          "encoding": {
            "x": {"field": "x", "type": "quantitative", "scale": {"domain": [0, 1], "nice": false, "zero": false}, "axis": null},
            "y": {"field": "y", "type": "quantitative", "scale": {"domain": [0, 100], "nice": false, "zero": false}, "axis": null},
            "text": {"field": "label", "type": "nominal"}
          }
        },
        {
          "data": {"name": "a_texts"}, "transform": [{"filter": "datum.kind == 'noteR'"}],
          "mark": {"type": "text", "align": "right", "baseline": "middle", "fontSize": 16.5, "fontStyle": "italic", "color": "#8c8c8c"},
          "encoding": {
            "x": {"field": "x", "type": "quantitative", "scale": {"domain": [0, 1], "nice": false, "zero": false}, "axis": null},
            "y": {"field": "y", "type": "quantitative", "scale": {"domain": [0, 100], "nice": false, "zero": false}, "axis": null},
            "text": {"field": "label", "type": "nominal"}
          }
        }
      ]
    },
    {
      "width": 389, "height": 315,
      "resolve": {"axis": {"x": "independent", "y": "independent"}, "scale": {"color": "independent", "size": "independent", "shape": "independent", "strokeWidth": "independent", "strokeDash": "independent"}},
      "layer": [
        {
          "data": {"name": "c_rects"}, "transform": [{"filter": "datum.kind == 'shade'"}],
          "mark": {"type": "rect", "fill": "#c4c4c4", "opacity": 0.55},
          "encoding": {
            "x": {"field": "x", "type": "quantitative", "scale": {"domain": [0, 1], "nice": false, "zero": false}, "axis": {"orient": "bottom", "values": [0,0.05,0.1,0.15,0.2,0.25,0.3,0.35,0.4,0.45,0.5,0.55,0.6,0.65,0.7,0.75,0.8,0.85,0.9,0.95,1], "grid": true, "gridColor": "#9c9c9c", "gridDash": [2, 2], "gridWidth": 0.8, "ticks": false, "labels": false, "domain": false, "title": null, "zindex": 0}},
            "x2": {"field": "x2"},
            "y": {"field": "y", "type": "quantitative", "scale": {"domain": [0, 80], "nice": false, "zero": false}, "axis": {"orient": "left", "values": [0,10,20,30,40,50,60,70,80], "grid": true, "gridColor": "#9c9c9c", "gridDash": [2, 2], "gridWidth": 0.8, "ticks": false, "labels": false, "domain": false, "title": null, "zindex": 0}},
            "y2": {"field": "y2"}
          }
        },
        {
          "data": {"name": "c_rects"}, "transform": [{"filter": "datum.kind == 'box'"}],
          "mark": {"type": "rect", "fill": "white", "stroke": "#8a8a8a", "strokeWidth": 1.2},
          "encoding": {
            "x": {"field": "x", "type": "quantitative", "scale": {"domain": [0, 1], "nice": false, "zero": false}, "axis": {"orient": "bottom", "values": [0,0.05,0.1,0.15,0.2,0.25,0.3,0.35,0.4,0.45,0.5,0.55,0.6,0.65,0.7,0.75,0.8,0.85,0.9,0.95,1], "offset": -8, "tickSize": 16, "tickWidth": 1.6, "labels": false, "domain": false, "grid": false, "title": null, "zindex": 1}},
            "x2": {"field": "x2"},
            "y": {"field": "y", "type": "quantitative", "scale": {"domain": [0, 80], "nice": false, "zero": false}, "axis": {"orient": "left", "values": [0,10,20,30,40,50,60,70,80], "offset": -8, "tickSize": 17, "tickWidth": 1.6, "labels": false, "domain": false, "grid": false, "title": null, "zindex": 1}},
            "y2": {"field": "y2"}
          }
        },
        {
          "data": {"name": "c_curves"},
          "mark": {"type": "line", "interpolate": "monotone", "color": "black", "strokeJoin": "round"},
          "encoding": {
            "x": {"field": "x", "type": "quantitative", "scale": {"domain": [0, 1], "nice": false, "zero": false}, "axis": {"orient": "bottom", "values": [0, 0.25, 0.5, 0.75, 1], "labelExpr": "replace(toString(datum.value), '.', ',')", "ticks": false, "domain": true, "domainWidth": 2, "labelPadding": 21, "grid": false, "title": "z/g", "titleFontStyle": "italic", "titlePadding": 4, "zindex": 1}},
            "y": {"field": "y", "type": "quantitative", "scale": {"domain": [0, 80], "nice": false, "zero": false}, "axis": {"orient": "left", "values": [0, 20, 40, 60, 80], "ticks": false, "domain": true, "domainWidth": 2, "labelPadding": 19, "grid": false, "title": "ε₁ᵖ [%]", "titleFontSize": 19.5, "titlePadding": 10, "zindex": 1}},
            "strokeWidth": {"field": "rho", "type": "nominal", "scale": {"domain": ["0.5 mm", "2 mm", "10 mm"], "range": [2.4, 1.3, 3.2]}, "legend": null}
          }
        },
        {
          "data": {"name": "c_rules"},
          "mark": {"type": "rule"},
          "encoding": {
            "x": {"field": "x", "type": "quantitative", "scale": {"domain": [0, 1], "nice": false, "zero": false}, "axis": {"orient": "bottom", "values": [0, 0.25, 0.5, 0.75, 1], "offset": -12, "tickSize": 24, "tickWidth": 2, "labels": false, "domain": false, "grid": false, "title": null, "zindex": 1}},
            "x2": {"field": "x2"},
            "y": {"field": "y", "type": "quantitative", "scale": {"domain": [0, 80], "nice": false, "zero": false}, "axis": {"orient": "left", "values": [0, 20, 40, 60, 80], "offset": -12, "tickSize": 25, "tickWidth": 2, "labels": false, "domain": false, "grid": false, "title": null, "zindex": 1}},
            "y2": {"field": "y2"},
            "color": {"field": "kind", "type": "nominal", "scale": {"domain": ["crack", "dash", "box", "leader", "note"], "range": ["#c8161d", "#d0141e", "#404040", "#1a1a1a", "#8c8c8c"]}, "legend": null},
            "strokeWidth": {"field": "kind", "type": "nominal", "scale": {"domain": ["crack", "dash", "box", "leader", "note"], "range": [1.8, 1, 1.6, 1, 1]}, "legend": null},
            "strokeDash": {"field": "kind", "type": "nominal", "scale": {"domain": ["crack", "dash", "box", "leader", "note"], "range": [[1, 0], [3, 2], [1, 0], [1, 0], [1, 0]]}, "legend": null}
          }
        },
        {
          "data": {"name": "c_heads"},
          "mark": {"type": "point", "filled": true, "opacity": 1, "strokeWidth": 0},
          "encoding": {
            "x": {"field": "x", "type": "quantitative", "scale": {"domain": [0, 1], "nice": false, "zero": false}, "axis": null},
            "y": {"field": "y", "type": "quantitative", "scale": {"domain": [0, 80], "nice": false, "zero": false}, "axis": null},
            "shape": {"field": "dir", "type": "nominal", "scale": {"domain": ["down", "left", "right", "up"], "range": ["M0,0L-0.65,-1.7L0,-1.2L0.65,-1.7Z", "M0,0L1.7,-0.65L1.2,0L1.7,0.65Z", "M0,0L-1.7,-0.65L-1.2,0L-1.7,0.65Z", "M0,0L-0.65,1.7L0,1.2L0.65,1.7Z"]}, "legend": null},
            "color": {"field": "kind", "type": "nominal", "scale": {"domain": ["crack", "box", "note"], "range": ["#c8161d", "#404040", "#8c8c8c"]}, "legend": null},
            "size": {"field": "kind", "type": "nominal", "scale": {"domain": ["crack", "box", "note"], "range": [150, 110, 45]}, "legend": null}
          }
        },
        {
          "data": {"name": "c_dots"},
          "mark": {"type": "point", "filled": true, "opacity": 1, "color": "#d0141e", "size": 30},
          "encoding": {
            "x": {"field": "x", "type": "quantitative", "scale": {"domain": [0, 1], "nice": false, "zero": false}, "axis": null},
            "y": {"field": "y", "type": "quantitative", "scale": {"domain": [0, 80], "nice": false, "zero": false}, "axis": null}
          }
        },
        {
          "data": {"name": "c_texts"}, "transform": [{"filter": "indexof(['red', 'rho', 'letter'], datum.kind) >= 0"}],
          "mark": {"type": "text", "align": "left", "baseline": "middle", "fontSize": 20.5},
          "encoding": {
            "x": {"field": "x", "type": "quantitative", "scale": {"domain": [0, 1], "nice": false, "zero": false}, "axis": null},
            "y": {"field": "y", "type": "quantitative", "scale": {"domain": [0, 80], "nice": false, "zero": false}, "axis": null},
            "text": {"field": "label", "type": "nominal"},
            "color": {"field": "kind", "type": "nominal", "scale": {"domain": ["red", "rho", "letter"], "range": ["#c8161d", "black", "black"]}, "legend": null}
          }
        },
        {
          "data": {"name": "c_texts"}, "transform": [{"filter": "datum.kind == 'box'"}],
          "mark": {"type": "text", "align": "center", "baseline": "middle", "fontSize": 18.8, "color": "black"},
          "encoding": {
            "x": {"field": "x", "type": "quantitative", "scale": {"domain": [0, 1], "nice": false, "zero": false}, "axis": null},
            "y": {"field": "y", "type": "quantitative", "scale": {"domain": [0, 80], "nice": false, "zero": false}, "axis": null},
            "text": {"field": "label", "type": "nominal"}
          }
        },
        {
          "data": {"name": "c_texts"}, "transform": [{"filter": "datum.kind == 'noteL'"}],
          "mark": {"type": "text", "align": "left", "baseline": "middle", "fontSize": 16.5, "fontStyle": "italic", "color": "#8c8c8c"},
          "encoding": {
            "x": {"field": "x", "type": "quantitative", "scale": {"domain": [0, 1], "nice": false, "zero": false}, "axis": null},
            "y": {"field": "y", "type": "quantitative", "scale": {"domain": [0, 80], "nice": false, "zero": false}, "axis": null},
            "text": {"field": "label", "type": "nominal"}
          }
        },
        {
          "data": {"name": "c_texts"}, "transform": [{"filter": "datum.kind == 'noteR'"}],
          "mark": {"type": "text", "align": "right", "baseline": "middle", "fontSize": 16.5, "fontStyle": "italic", "color": "#8c8c8c"},
          "encoding": {
            "x": {"field": "x", "type": "quantitative", "scale": {"domain": [0, 1], "nice": false, "zero": false}, "axis": null},
            "y": {"field": "y", "type": "quantitative", "scale": {"domain": [0, 80], "nice": false, "zero": false}, "axis": null},
            "text": {"field": "label", "type": "nominal"}
          }
        }
      ]
    },
    {
      "width": 389, "height": 314,
      "resolve": {"axis": {"x": "independent", "y": "independent"}, "scale": {"color": "independent", "size": "independent", "shape": "independent", "strokeWidth": "independent", "strokeDash": "independent"}},
      "layer": [
        {
          "data": {"name": "b_rects"}, "transform": [{"filter": "datum.kind == 'shade'"}],
          "mark": {"type": "rect", "fill": "#c4c4c4", "opacity": 0.55},
          "encoding": {
            "x": {"field": "x", "type": "quantitative", "scale": {"domain": [0, 1], "nice": false, "zero": false}, "axis": {"orient": "bottom", "values": [0,0.05,0.1,0.15,0.2,0.25,0.3,0.35,0.4,0.45,0.5,0.55,0.6,0.65,0.7,0.75,0.8,0.85,0.9,0.95,1], "grid": true, "gridColor": "#9c9c9c", "gridDash": [2, 2], "gridWidth": 0.8, "ticks": false, "labels": false, "domain": false, "title": null, "zindex": 0}},
            "x2": {"field": "x2"},
            "y": {"field": "y", "type": "quantitative", "scale": {"domain": [0, 100], "nice": false, "zero": false}, "axis": {"orient": "left", "values": [0,10,20,30,40,50,60,70,80,90,100], "grid": true, "gridColor": "#9c9c9c", "gridDash": [2, 2], "gridWidth": 0.8, "ticks": false, "labels": false, "domain": false, "title": null, "zindex": 0}},
            "y2": {"field": "y2"}
          }
        },
        {
          "data": {"name": "b_rects"}, "transform": [{"filter": "datum.kind == 'box'"}],
          "mark": {"type": "rect", "fill": "white", "stroke": "#8a8a8a", "strokeWidth": 1.2},
          "encoding": {
            "x": {"field": "x", "type": "quantitative", "scale": {"domain": [0, 1], "nice": false, "zero": false}, "axis": {"orient": "bottom", "values": [0,0.05,0.1,0.15,0.2,0.25,0.3,0.35,0.4,0.45,0.5,0.55,0.6,0.65,0.7,0.75,0.8,0.85,0.9,0.95,1], "offset": -8, "tickSize": 16, "tickWidth": 1.6, "labels": false, "domain": false, "grid": false, "title": null, "zindex": 1}},
            "x2": {"field": "x2"},
            "y": {"field": "y", "type": "quantitative", "scale": {"domain": [0, 100], "nice": false, "zero": false}, "axis": {"orient": "left", "values": [0,10,20,30,40,50,60,70,80,90,100], "offset": -8, "tickSize": 17, "tickWidth": 1.6, "labels": false, "domain": false, "grid": false, "title": null, "zindex": 1}},
            "y2": {"field": "y2"}
          }
        },
        {
          "data": {"name": "b_curves"},
          "mark": {"type": "line", "interpolate": "monotone", "color": "black", "strokeJoin": "round"},
          "encoding": {
            "x": {"field": "x", "type": "quantitative", "scale": {"domain": [0, 1], "nice": false, "zero": false}, "axis": {"orient": "bottom", "values": [0, 0.25, 0.5, 0.75, 1], "labelExpr": "replace(toString(datum.value), '.', ',')", "ticks": false, "domain": true, "domainWidth": 2, "labelPadding": 24, "grid": false, "title": "x/s", "titleFontStyle": "italic", "titlePadding": 11, "zindex": 1}},
            "y": {"field": "y", "type": "quantitative", "scale": {"domain": [0, 100], "nice": false, "zero": false}, "axis": {"orient": "left", "values": [0, 20, 40, 60, 80, 100], "ticks": false, "domain": true, "domainWidth": 2, "labelPadding": 21, "grid": false, "title": "ε₁ᵖ [%]", "titleFontSize": 19.5, "titlePadding": 3, "zindex": 1}},
            "strokeWidth": {"field": "rho", "type": "nominal", "scale": {"domain": ["0.5 mm", "2 mm", "10 mm"], "range": [1.8, 2.2, 2.2]}, "legend": null}
          }
        },
        {
          "data": {"name": "b_rules"},
          "mark": {"type": "rule"},
          "encoding": {
            "x": {"field": "x", "type": "quantitative", "scale": {"domain": [0, 1], "nice": false, "zero": false}, "axis": {"orient": "bottom", "values": [0, 0.25, 0.5, 0.75, 1], "offset": -12, "tickSize": 24, "tickWidth": 2, "labels": false, "domain": false, "grid": false, "title": null, "zindex": 1}},
            "x2": {"field": "x2"},
            "y": {"field": "y", "type": "quantitative", "scale": {"domain": [0, 100], "nice": false, "zero": false}, "axis": {"orient": "left", "values": [0, 20, 40, 60, 80, 100], "offset": -12, "tickSize": 25, "tickWidth": 2, "labels": false, "domain": false, "grid": false, "title": null, "zindex": 1}},
            "y2": {"field": "y2"},
            "color": {"field": "kind", "type": "nominal", "scale": {"domain": ["crack", "dash", "box", "leader", "note"], "range": ["#c8161d", "#d0141e", "#404040", "#1a1a1a", "#8c8c8c"]}, "legend": null},
            "strokeWidth": {"field": "kind", "type": "nominal", "scale": {"domain": ["crack", "dash", "box", "leader", "note"], "range": [1.8, 1, 1.6, 1, 1]}, "legend": null},
            "strokeDash": {"field": "kind", "type": "nominal", "scale": {"domain": ["crack", "dash", "box", "leader", "note"], "range": [[1, 0], [3, 2], [1, 0], [1, 0], [1, 0]]}, "legend": null}
          }
        },
        {
          "data": {"name": "b_heads"},
          "mark": {"type": "point", "filled": true, "opacity": 1, "strokeWidth": 0},
          "encoding": {
            "x": {"field": "x", "type": "quantitative", "scale": {"domain": [0, 1], "nice": false, "zero": false}, "axis": null},
            "y": {"field": "y", "type": "quantitative", "scale": {"domain": [0, 100], "nice": false, "zero": false}, "axis": null},
            "shape": {"field": "dir", "type": "nominal", "scale": {"domain": ["down", "left", "right", "up"], "range": ["M0,0L-0.65,-1.7L0,-1.2L0.65,-1.7Z", "M0,0L1.7,-0.65L1.2,0L1.7,0.65Z", "M0,0L-1.7,-0.65L-1.2,0L-1.7,0.65Z", "M0,0L-0.65,1.7L0,1.2L0.65,1.7Z"]}, "legend": null},
            "color": {"field": "kind", "type": "nominal", "scale": {"domain": ["crack", "box", "note"], "range": ["#c8161d", "#404040", "#8c8c8c"]}, "legend": null},
            "size": {"field": "kind", "type": "nominal", "scale": {"domain": ["crack", "box", "note"], "range": [150, 110, 45]}, "legend": null}
          }
        },
        {
          "data": {"name": "b_dots"},
          "mark": {"type": "point", "filled": true, "opacity": 1, "color": "#d0141e", "size": 30},
          "encoding": {
            "x": {"field": "x", "type": "quantitative", "scale": {"domain": [0, 1], "nice": false, "zero": false}, "axis": null},
            "y": {"field": "y", "type": "quantitative", "scale": {"domain": [0, 100], "nice": false, "zero": false}, "axis": null}
          }
        },
        {
          "data": {"name": "b_texts"}, "transform": [{"filter": "indexof(['red', 'rho', 'letter'], datum.kind) >= 0"}],
          "mark": {"type": "text", "align": "left", "baseline": "middle", "fontSize": 20.5},
          "encoding": {
            "x": {"field": "x", "type": "quantitative", "scale": {"domain": [0, 1], "nice": false, "zero": false}, "axis": null},
            "y": {"field": "y", "type": "quantitative", "scale": {"domain": [0, 100], "nice": false, "zero": false}, "axis": null},
            "text": {"field": "label", "type": "nominal"},
            "color": {"field": "kind", "type": "nominal", "scale": {"domain": ["red", "rho", "letter"], "range": ["#c8161d", "black", "black"]}, "legend": null}
          }
        },
        {
          "data": {"name": "b_texts"}, "transform": [{"filter": "datum.kind == 'box'"}],
          "mark": {"type": "text", "align": "center", "baseline": "middle", "fontSize": 18.8, "color": "black"},
          "encoding": {
            "x": {"field": "x", "type": "quantitative", "scale": {"domain": [0, 1], "nice": false, "zero": false}, "axis": null},
            "y": {"field": "y", "type": "quantitative", "scale": {"domain": [0, 100], "nice": false, "zero": false}, "axis": null},
            "text": {"field": "label", "type": "nominal"}
          }
        },
        {
          "data": {"name": "b_texts"}, "transform": [{"filter": "datum.kind == 'noteL'"}],
          "mark": {"type": "text", "align": "left", "baseline": "middle", "fontSize": 16.5, "fontStyle": "italic", "color": "#8c8c8c"},
          "encoding": {
            "x": {"field": "x", "type": "quantitative", "scale": {"domain": [0, 1], "nice": false, "zero": false}, "axis": null},
            "y": {"field": "y", "type": "quantitative", "scale": {"domain": [0, 100], "nice": false, "zero": false}, "axis": null},
            "text": {"field": "label", "type": "nominal"}
          }
        },
        {
          "data": {"name": "b_texts"}, "transform": [{"filter": "datum.kind == 'noteR'"}],
          "mark": {"type": "text", "align": "right", "baseline": "middle", "fontSize": 16.5, "fontStyle": "italic", "color": "#8c8c8c"},
          "encoding": {
            "x": {"field": "x", "type": "quantitative", "scale": {"domain": [0, 1], "nice": false, "zero": false}, "axis": null},
            "y": {"field": "y", "type": "quantitative", "scale": {"domain": [0, 100], "nice": false, "zero": false}, "axis": null},
            "text": {"field": "label", "type": "nominal"}
          }
        }
      ]
    },
    {
      "width": 389, "height": 314,
      "resolve": {"axis": {"x": "independent", "y": "independent"}, "scale": {"color": "independent", "size": "independent", "shape": "independent", "strokeWidth": "independent", "strokeDash": "independent"}},
      "layer": [
        {
          "data": {"name": "d_rects"}, "transform": [{"filter": "datum.kind == 'shade'"}],
          "mark": {"type": "rect", "fill": "#c4c4c4", "opacity": 0.55},
          "encoding": {
            "x": {"field": "x", "type": "quantitative", "scale": {"domain": [0, 1], "nice": false, "zero": false}, "axis": {"orient": "bottom", "values": [0,0.05,0.1,0.15,0.2,0.25,0.3,0.35,0.4,0.45,0.5,0.55,0.6,0.65,0.7,0.75,0.8,0.85,0.9,0.95,1], "grid": true, "gridColor": "#9c9c9c", "gridDash": [2, 2], "gridWidth": 0.8, "ticks": false, "labels": false, "domain": false, "title": null, "zindex": 0}},
            "x2": {"field": "x2"},
            "y": {"field": "y", "type": "quantitative", "scale": {"domain": [0, 100], "nice": false, "zero": false}, "axis": {"orient": "left", "values": [0,10,20,30,40,50,60,70,80,90,100], "grid": true, "gridColor": "#9c9c9c", "gridDash": [2, 2], "gridWidth": 0.8, "ticks": false, "labels": false, "domain": false, "title": null, "zindex": 0}},
            "y2": {"field": "y2"}
          }
        },
        {
          "data": {"name": "d_rects"}, "transform": [{"filter": "datum.kind == 'box'"}],
          "mark": {"type": "rect", "fill": "white", "stroke": "#8a8a8a", "strokeWidth": 1.2},
          "encoding": {
            "x": {"field": "x", "type": "quantitative", "scale": {"domain": [0, 1], "nice": false, "zero": false}, "axis": {"orient": "bottom", "values": [0,0.05,0.1,0.15,0.2,0.25,0.3,0.35,0.4,0.45,0.5,0.55,0.6,0.65,0.7,0.75,0.8,0.85,0.9,0.95,1], "offset": -8, "tickSize": 16, "tickWidth": 1.6, "labels": false, "domain": false, "grid": false, "title": null, "zindex": 1}},
            "x2": {"field": "x2"},
            "y": {"field": "y", "type": "quantitative", "scale": {"domain": [0, 100], "nice": false, "zero": false}, "axis": {"orient": "left", "values": [0,10,20,30,40,50,60,70,80,90,100], "offset": -8, "tickSize": 17, "tickWidth": 1.6, "labels": false, "domain": false, "grid": false, "title": null, "zindex": 1}},
            "y2": {"field": "y2"}
          }
        },
        {
          "data": {"name": "d_curves"},
          "mark": {"type": "line", "interpolate": "monotone", "color": "black", "strokeJoin": "round"},
          "encoding": {
            "x": {"field": "x", "type": "quantitative", "scale": {"domain": [0, 1], "nice": false, "zero": false}, "axis": {"orient": "bottom", "values": [0, 0.25, 0.5, 0.75, 1], "labelExpr": "replace(toString(datum.value), '.', ',')", "ticks": false, "domain": true, "domainWidth": 2, "labelPadding": 21, "grid": false, "title": "x/s", "titleFontStyle": "italic", "titlePadding": 9, "zindex": 1}},
            "y": {"field": "y", "type": "quantitative", "scale": {"domain": [0, 100], "nice": false, "zero": false}, "axis": {"orient": "left", "values": [0, 20, 40, 60, 80, 100], "ticks": false, "domain": true, "domainWidth": 2, "labelPadding": 20, "grid": false, "title": "ε₁ᵖ [%]", "titleFontSize": 19.5, "titlePadding": 4, "zindex": 1}},
            "strokeWidth": {"field": "rho", "type": "nominal", "scale": {"domain": ["0.5 mm", "2 mm", "10 mm"], "range": [1.5, 2.6, 2.4]}, "legend": null}
          }
        },
        {
          "data": {"name": "d_rules"},
          "mark": {"type": "rule"},
          "encoding": {
            "x": {"field": "x", "type": "quantitative", "scale": {"domain": [0, 1], "nice": false, "zero": false}, "axis": {"orient": "bottom", "values": [0, 0.25, 0.5, 0.75, 1], "offset": -12, "tickSize": 24, "tickWidth": 2, "labels": false, "domain": false, "grid": false, "title": null, "zindex": 1}},
            "x2": {"field": "x2"},
            "y": {"field": "y", "type": "quantitative", "scale": {"domain": [0, 100], "nice": false, "zero": false}, "axis": {"orient": "left", "values": [0, 20, 40, 60, 80, 100], "offset": -12, "tickSize": 25, "tickWidth": 2, "labels": false, "domain": false, "grid": false, "title": null, "zindex": 1}},
            "y2": {"field": "y2"},
            "color": {"field": "kind", "type": "nominal", "scale": {"domain": ["crack", "dash", "box", "leader", "note"], "range": ["#c8161d", "#d0141e", "#404040", "#1a1a1a", "#8c8c8c"]}, "legend": null},
            "strokeWidth": {"field": "kind", "type": "nominal", "scale": {"domain": ["crack", "dash", "box", "leader", "note"], "range": [1.8, 1, 1.6, 1, 1]}, "legend": null},
            "strokeDash": {"field": "kind", "type": "nominal", "scale": {"domain": ["crack", "dash", "box", "leader", "note"], "range": [[1, 0], [3, 2], [1, 0], [1, 0], [1, 0]]}, "legend": null}
          }
        },
        {
          "data": {"name": "d_heads"},
          "mark": {"type": "point", "filled": true, "opacity": 1, "strokeWidth": 0},
          "encoding": {
            "x": {"field": "x", "type": "quantitative", "scale": {"domain": [0, 1], "nice": false, "zero": false}, "axis": null},
            "y": {"field": "y", "type": "quantitative", "scale": {"domain": [0, 100], "nice": false, "zero": false}, "axis": null},
            "shape": {"field": "dir", "type": "nominal", "scale": {"domain": ["down", "left", "right", "up"], "range": ["M0,0L-0.65,-1.7L0,-1.2L0.65,-1.7Z", "M0,0L1.7,-0.65L1.2,0L1.7,0.65Z", "M0,0L-1.7,-0.65L-1.2,0L-1.7,0.65Z", "M0,0L-0.65,1.7L0,1.2L0.65,1.7Z"]}, "legend": null},
            "color": {"field": "kind", "type": "nominal", "scale": {"domain": ["crack", "box", "note"], "range": ["#c8161d", "#404040", "#8c8c8c"]}, "legend": null},
            "size": {"field": "kind", "type": "nominal", "scale": {"domain": ["crack", "box", "note"], "range": [150, 110, 45]}, "legend": null}
          }
        },
        {
          "data": {"name": "d_dots"},
          "mark": {"type": "point", "filled": true, "opacity": 1, "color": "#d0141e", "size": 30},
          "encoding": {
            "x": {"field": "x", "type": "quantitative", "scale": {"domain": [0, 1], "nice": false, "zero": false}, "axis": null},
            "y": {"field": "y", "type": "quantitative", "scale": {"domain": [0, 100], "nice": false, "zero": false}, "axis": null}
          }
        },
        {
          "data": {"name": "d_texts"}, "transform": [{"filter": "indexof(['red', 'rho', 'letter'], datum.kind) >= 0"}],
          "mark": {"type": "text", "align": "left", "baseline": "middle", "fontSize": 20.5},
          "encoding": {
            "x": {"field": "x", "type": "quantitative", "scale": {"domain": [0, 1], "nice": false, "zero": false}, "axis": null},
            "y": {"field": "y", "type": "quantitative", "scale": {"domain": [0, 100], "nice": false, "zero": false}, "axis": null},
            "text": {"field": "label", "type": "nominal"},
            "color": {"field": "kind", "type": "nominal", "scale": {"domain": ["red", "rho", "letter"], "range": ["#c8161d", "black", "black"]}, "legend": null}
          }
        },
        {
          "data": {"name": "d_texts"}, "transform": [{"filter": "datum.kind == 'box'"}],
          "mark": {"type": "text", "align": "center", "baseline": "middle", "fontSize": 18.8, "color": "black"},
          "encoding": {
            "x": {"field": "x", "type": "quantitative", "scale": {"domain": [0, 1], "nice": false, "zero": false}, "axis": null},
            "y": {"field": "y", "type": "quantitative", "scale": {"domain": [0, 100], "nice": false, "zero": false}, "axis": null},
            "text": {"field": "label", "type": "nominal"}
          }
        },
        {
          "data": {"name": "d_texts"}, "transform": [{"filter": "datum.kind == 'noteL'"}],
          "mark": {"type": "text", "align": "left", "baseline": "middle", "fontSize": 16.5, "fontStyle": "italic", "color": "#8c8c8c"},
          "encoding": {
            "x": {"field": "x", "type": "quantitative", "scale": {"domain": [0, 1], "nice": false, "zero": false}, "axis": null},
            "y": {"field": "y", "type": "quantitative", "scale": {"domain": [0, 100], "nice": false, "zero": false}, "axis": null},
            "text": {"field": "label", "type": "nominal"}
          }
        },
        {
          "data": {"name": "d_texts"}, "transform": [{"filter": "datum.kind == 'noteR'"}],
          "mark": {"type": "text", "align": "right", "baseline": "middle", "fontSize": 16.5, "fontStyle": "italic", "color": "#8c8c8c"},
          "encoding": {
            "x": {"field": "x", "type": "quantitative", "scale": {"domain": [0, 1], "nice": false, "zero": false}, "axis": null},
            "y": {"field": "y", "type": "quantitative", "scale": {"domain": [0, 100], "nice": false, "zero": false}, "axis": null},
            "text": {"field": "label", "type": "nominal"}
          }
        }
      ]
    }
  ]
}
